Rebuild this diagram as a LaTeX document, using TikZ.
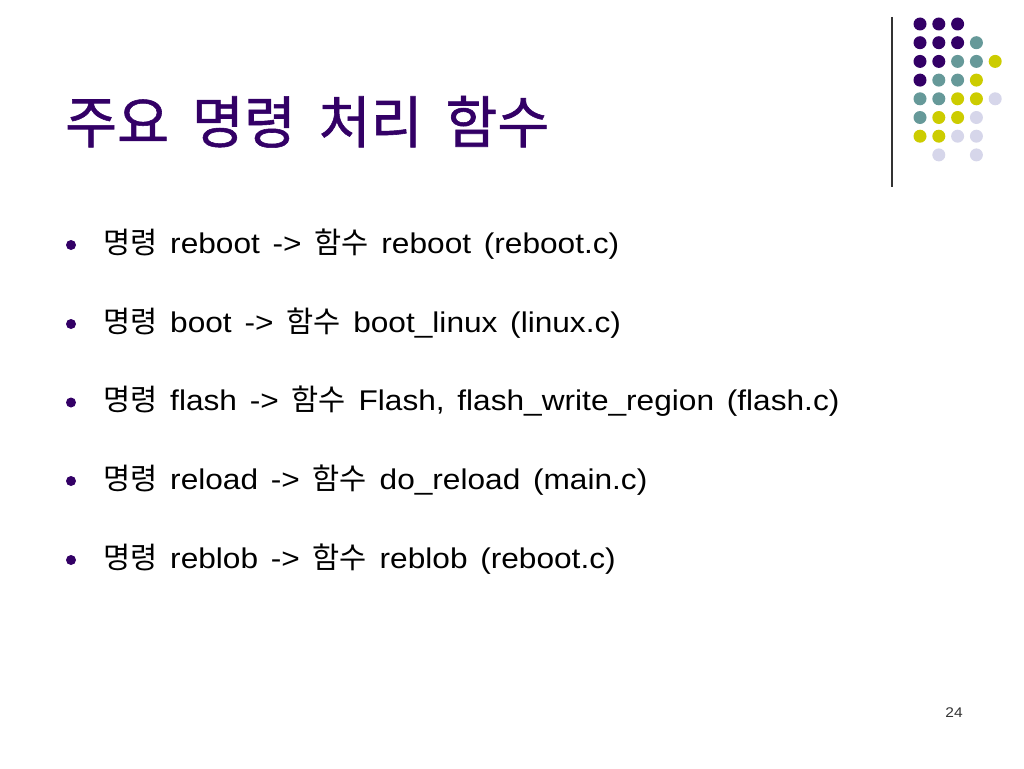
\documentclass[tikz,border=0pt]{standalone}
\usepackage{fontspec}
\setmainfont[FakeStretch=1.11,WordSpace=1.45]{Liberation Sans}
\newfontfamily\krfont{Noto Sans CJK KR}
\newfontfamily\krtitle[FakeBold=1,WordSpace=1.8]{Noto Sans CJK KR}
\newcommand\hangul[1]{{\krfont\fontsize{29.5}{32}\selectfont #1}}
\usetikzlibrary{positioning}
\definecolor{slidepurple}{HTML}{330066}
\definecolor{slideteal}{HTML}{669999}
\definecolor{slideyellow}{HTML}{CCCC00}
\definecolor{slidelilac}{HTML}{D6D6EA}

\begin{document}
\begin{tikzpicture}[
        x=1pt, y=-1pt,
        title/.style={anchor=base west,inner sep=0pt,text=slidepurple,font=\krtitle\fontsize{56.5}{60}\selectfont},
        item/.style={anchor=base west,inner sep=0pt,font=\fontsize{28.5}{32}\selectfont},
        bullet/.style={circle,fill=slidepurple,inner sep=0pt,minimum size=10pt},
        dot/.style={circle,inner sep=0pt,minimum size=13pt},
    ]
    \useasboundingbox (0,0) rectangle (1024,768);
    \node[title] (title) at (65,143) {주요 명령 처리 함수};
    % divider and dot pattern
    \draw[line width=1.2pt,black!80] (892,17) -- (892,187);
    \foreach \c/\r/\col in {0/0/slidepurple,1/0/slidepurple,2/0/slidepurple,
        0/1/slidepurple,1/1/slidepurple,2/1/slidepurple,3/1/slideteal,
        0/2/slidepurple,1/2/slidepurple,2/2/slideteal,3/2/slideteal,4/2/slideyellow,
        0/3/slidepurple,1/3/slideteal,2/3/slideteal,3/3/slideyellow,
        0/4/slideteal,1/4/slideteal,2/4/slideyellow,3/4/slideyellow,4/4/slidelilac,
        0/5/slideteal,1/5/slideyellow,2/5/slideyellow,3/5/slidelilac,
        0/6/slideyellow,1/6/slideyellow,2/6/slidelilac,3/6/slidelilac,
        1/7/slidelilac,3/7/slidelilac}
      \node[dot,fill=\col] (d\c\r) at (920+18.8*\c,24+18.7*\r) {};
    % items
    \node[bullet] (b1) at (71,245) {};
    \node[bullet] (b2) at (71,324) {};
    \node[bullet] (b3) at (71,402.5) {};
    \node[bullet] (b4) at (71,481) {};
    \node[bullet] (b5) at (71,560) {};
    \node[item] (t1) at (103,253) {\hangul{명령} reboot -> \hangul{함수} reboot (reboot.c)};
    \node[item] (t2) at (103,332) {\hangul{명령} boot -> \hangul{함수} boot\_linux (linux.c)};
    \node[item] (t3) at (103,410.5) {\hangul{명령} flash -> \hangul{함수} Flash, flash\_write\_region (flash.c)};
    \node[item] (t4) at (103,489) {\hangul{명령} reload -> \hangul{함수} do\_reload (main.c)};
    \node[item] (t5) at (103,568) {\hangul{명령} reblob -> \hangul{함수} reblob (reboot.c)};
    \node[inner sep=0pt,text=black!80,font=\fontsize{14}{16}\selectfont] (pg) at (954,713) {24};
\end{tikzpicture}
\end{document}
